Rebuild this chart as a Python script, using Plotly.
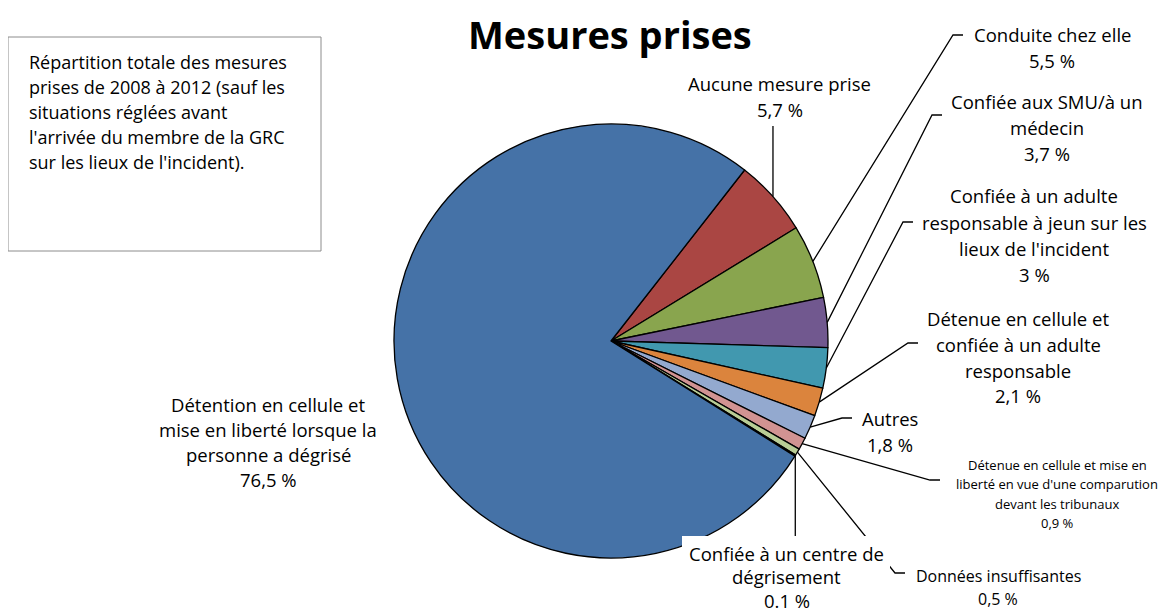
import math
import plotly.graph_objects as go

# page has an 8px body margin: figure is drawn 8px in from the top-left corner
OFF = 8
W, H = 1169 - OFF, 613 - OFF

# ---- data ----
categories = [
    "Aucune mesure prise",
    "Conduite chez elle",
    "Confiée aux SMU/à un médecin",
    "Confiée à un adulte responsable à jeun sur les lieux de l'incident",
    "Détenue en cellule et confiée à un adulte responsable",
    "Autres",
    "Détenue en cellule et mise en liberté en vue d'une comparution devant les tribunaux",
    "Données insuffisantes",
    "Confiée à un centre de dégrisement",
    "Détention en cellule et mise en liberté lorsque la personne a dégrisé",
]
values = [5.7, 5.5, 3.7, 3.0, 2.1, 1.8, 0.9, 0.5, 0.1, 76.5]
value_labels = ["5,7 %", "5,5 %", "3,7 %", "3 %", "2,1 %", "1,8 %", "0,9 %", "0,5 %", "0.1 %", "76,5 %"]
label_lines = [
    ["Aucune mesure prise"],
    ["Conduite chez elle"],
    ["Confiée aux SMU/à un", "médecin"],
    ["Confiée à un adulte", "responsable à jeun sur les", "lieux de l'incident"],
    ["Détenue en cellule et", "confiée à un adulte", "responsable"],
    ["Autres"],
    ["Détenue en cellule et mise en", "liberté en vue d'une comparution", "devant les tribunaux"],
    ["Données insuffisantes"],
    ["Confiée à un centre de", "dégrisement"],
    ["Détention en cellule et", "mise en liberté lorsque la", "personne a dégrisé"],
]
colors = ["#AA4643", "#89A54E", "#71588F", "#4198AF", "#DB843D",
          "#93A9CF", "#D19392", "#B9CD96", "#A99BBD", "#4572A7"]

# ---- layout (window pixels) ----
CX, CY, R = 611, 341, 217
ROT = 38
FONT = "Open Sans"

# label placement: (center x, first line y, line spacing, font size, leader elbow pts)
label_pos = [
    (780, 84, 25, 18.5, [(None, 126)]),
    (1052, 35, 25.5, 18.5, [(953, 35), (963, 35)]),
    (1047, 102, 25.5, 18.5, [(932, 115), (942, 115)]),
    (1034, 196, 26, 18.5, [(903, 222), (913, 222)]),
    (1018, 318, 26, 18.5, [(908, 343), (918, 343)]),
    (890, 418, 27, 18.5, [(842, 418), (852, 418)]),
    (1057, 465, 19.3, 13, [(930, 480), (940, 480)]),
    (998, 576, 23, 16, [(895, 573), (905, 573)]),
    (787, 553, 23.5, 18.5, [(None, 540)]),
    (268, 404, 25, 18.5, []),
]


def px(x):
    return (x - OFF) / W


def py(y):
    return 1 - (y - OFF) / H


fig = go.Figure()
fig.add_trace(go.Pie(
    labels=categories,
    values=values,
    sort=False,
    direction="clockwise",
    rotation=ROT,
    textinfo="none",
    hoverinfo="label+percent",
    marker=dict(colors=colors, line=dict(color="black", width=1.3)),
    domain=dict(x=[px(CX - R), px(CX + R)], y=[py(CY + R), py(CY - R)]),
    showlegend=False,
))

shapes = []
annotations = []

total = sum(values)
start = ROT
for i, v in enumerate(values):
    span = v / total * 360
    mid = math.radians(start + span / 2)
    start += span
    sx = CX + R * math.sin(mid)
    sy = CY - R * math.cos(mid)
    cx, y0, sp, fs, elbow = label_pos[i]
    if elbow:
        pts = [(sx, sy)] + [((sx if ex is None else ex), ey) for ex, ey in elbow]
        path = "M " + " L ".join(f"{px(a):.5f},{py(b):.5f}" for a, b in pts)
        shapes.append(dict(type="path", xref="paper", yref="paper", path=path,
                           line=dict(color="black", width=1.3)))
    lines = label_lines[i] + [value_labels[i]]
    for j, t in enumerate(lines):
        annotations.append(dict(
            x=px(cx), y=py(y0 + j * sp), xref="paper", yref="paper",
            text=t, showarrow=False, xanchor="center", yanchor="middle",
            borderpad=0,
            font=dict(family=FONT, size=fs, color="black"),
        ))

# white box behind the "dégrisement" label (hides leader ends)
shapes.append(dict(type="rect", xref="paper", yref="paper",
                   x0=px(682), x1=px(890), y0=py(613), y1=py(536),
                   fillcolor="white", line=dict(width=0)))

# note box
shapes.append(dict(type="rect", xref="paper", yref="paper",
                   x0=px(8), x1=px(321), y0=py(251), y1=py(37),
                   fillcolor="white", line=dict(color="#8c8c8c", width=1)))
note_lines = [
    "Répartition totale des mesures",
    "prises de 2008 à 2012 (sauf les",
    "situations réglées avant",
    "l'arrivée du membre de la GRC",
    "sur les lieux de l'incident).",
]
for j, t in enumerate(note_lines):
    annotations.append(dict(
        x=px(27), y=py(62 + j * 25), xref="paper", yref="paper",
        text=t, showarrow=False, xanchor="left", yanchor="middle",
        font=dict(family=FONT, size=18, color="black"),
    ))

# title
annotations.append(dict(
    x=px(610), y=py(34), xref="paper", yref="paper",
    text="<b>Mesures prises</b>", showarrow=False, xanchor="center", yanchor="middle",
    borderpad=0,
    font=dict(family=FONT, size=38, color="black"),
))

fig.update_layout(
    width=W, height=H,
    margin=dict(l=0, r=0, t=0, b=0),
    paper_bgcolor="white", plot_bgcolor="white",
    shapes=shapes, annotations=annotations,
)

fig.write_html("out.html")
